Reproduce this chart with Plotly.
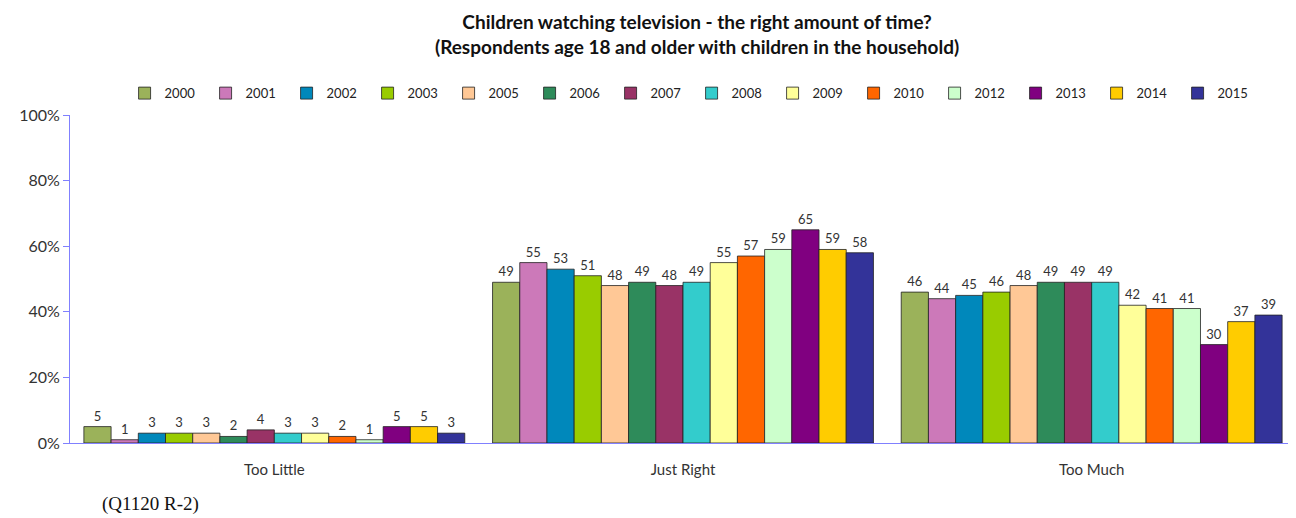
import plotly.graph_objects as go

categories = ["Too Little", "Just Right", "Too Much"]
years = ["2000", "2001", "2002", "2003", "2005", "2006", "2007",
         "2008", "2009", "2010", "2012", "2013", "2014", "2015"]
too_little = [5, 1, 3, 3, 3, 2, 4, 3, 3, 2, 1, 5, 5, 3]
just_right = [49, 55, 53, 51, 48, 49, 48, 49, 55, 57, 59, 65, 59, 58]
too_much = [46, 44, 45, 46, 48, 49, 49, 49, 42, 41, 41, 30, 37, 39]
colors = ["#9bb25a", "#cc79b9", "#0088bb", "#99cc00", "#ffc896", "#2e8b5a",
          "#993366", "#33cccc", "#ffff99", "#ff6600", "#ccffcc", "#800080",
          "#ffcc00", "#333399"]

fig = go.Figure()
for i, y in enumerate(years):
    vals = [too_little[i], just_right[i], too_much[i]]
    fig.add_trace(go.Bar(
        name=y, x=categories, y=[v / 100 for v in vals],
        marker=dict(color=colors[i], line=dict(color="#222222", width=0.8)),
        text=[str(v) for v in vals], textposition="outside",
        textfont=dict(size=13, color="#333333", family="Lato"),
        cliponaxis=False,
    ))

fig.update_layout(
    width=1288, height=510,
    paper_bgcolor="white", plot_bgcolor="white",
    margin=dict(l=62, r=0, t=107, b=75, autoexpand=False),
    barmode="group", bargap=0.068, bargroupgap=0,
    font=dict(family="Lato", color="#333333"),
    title=dict(
        text="<b>Children watching television - the right amount of time?</b><br><b>(Respondents age 18 and older with children in the household)</b>",
        x=0.535, xanchor="center", y=0.958, yanchor="top",
        font=dict(size=19, color="#111111", family="Lato"),
    ),
    legend=dict(orientation="h", x=0.507, xanchor="center", yref="container",
                y=0.833, yanchor="middle", font=dict(size=13, color="#222222"),
                entrywidth=36, entrywidthmode="pixels", itemwidth=30,
                traceorder="normal"),
    showlegend=True,
)
fig.update_yaxes(range=[0, 1], tickvals=[0, 0.2, 0.4, 0.6, 0.8, 1.0],
                 ticktext=["0%", "20%", "40%", "60%", "80%", "100%"],
                 showgrid=False, showline=True, linecolor="#8080ff", linewidth=1,
                 ticks="outside", ticklen=6, tickcolor="#8080ff",
                 tickfont=dict(size=16, color="#333333"), zeroline=False)
fig.update_xaxes(showgrid=False, showline=True, linecolor="#8080ff", linewidth=1,
                 ticks="outside", ticklen=13, tickcolor="rgba(0,0,0,0)",
                 tickfont=dict(size=15, color="#333333"))
fig.add_annotation(text="(Q1120 R-2)", xref="paper", yref="paper",
                   x=0.0245, y=-0.147, xanchor="left", yanchor="top", showarrow=False,
                   font=dict(family="Liberation Serif", size=19, color="#111111"))
fig.write_html("out.html")
